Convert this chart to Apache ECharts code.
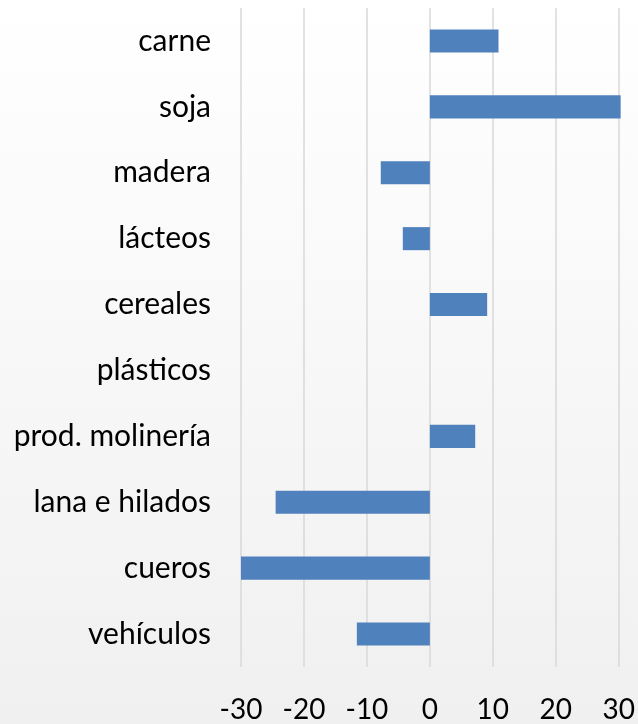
<!DOCTYPE html>
<html><head><meta charset="utf-8">
<script src="https://cdn.jsdelivr.net/npm/echarts@6/dist/echarts.min.js"></script>
<style>html,body{margin:0;padding:0;}#c{width:638px;height:724px;}</style>
</head><body><div id="c"></div>
<script>
const categories = ["carne","soja","madera","lácteos","cereales","plásticos","prod. molinería","lana e hilados","cueros","vehículos"];
const values = [10.9, 30.3, -7.8, -4.3, 9.1, 0, 7.2, -24.5, -30.0, -11.6];
const xTicks = [-30, -20, -10, 0, 10, 20, 30];

const chart = echarts.init(document.getElementById('c'), null, {renderer:'canvas'});
chart.setOption({
  animation: false,
  backgroundColor: {type:'linear', x:0, y:0, x2:0, y2:1, colorStops:[{offset:0,color:'#FFFFFF'},{offset:1,color:'#F0F0F0'}]},
  grid: {left: 241, right: 18, top: 8, bottom: 57, containLabel: false},
  xAxis: {
    type: 'value', min: xTicks[0], max: xTicks[xTicks.length-1], interval: 10,
    axisLine: {show:false}, axisTick: {show:false},
    splitLine: {show:true, lineStyle:{color:'#D9D9D9', width:1.5}},
    axisLabel: {fontFamily:'Lato', fontSize:28, color:'#000', margin:29}
  },
  yAxis: {
    type: 'category', data: categories, inverse: true,
    axisLine: {show:false}, axisTick: {show:false},
    axisLabel: {fontFamily:'Lato', fontSize:30, color:'#000', margin:30}
  },
  series: [{
    type: 'bar', data: values, barCategoryGap: '65%', clip: false,
    itemStyle: {color:'#4F81BD', borderWidth:0}
  }]
});
</script></body></html>
